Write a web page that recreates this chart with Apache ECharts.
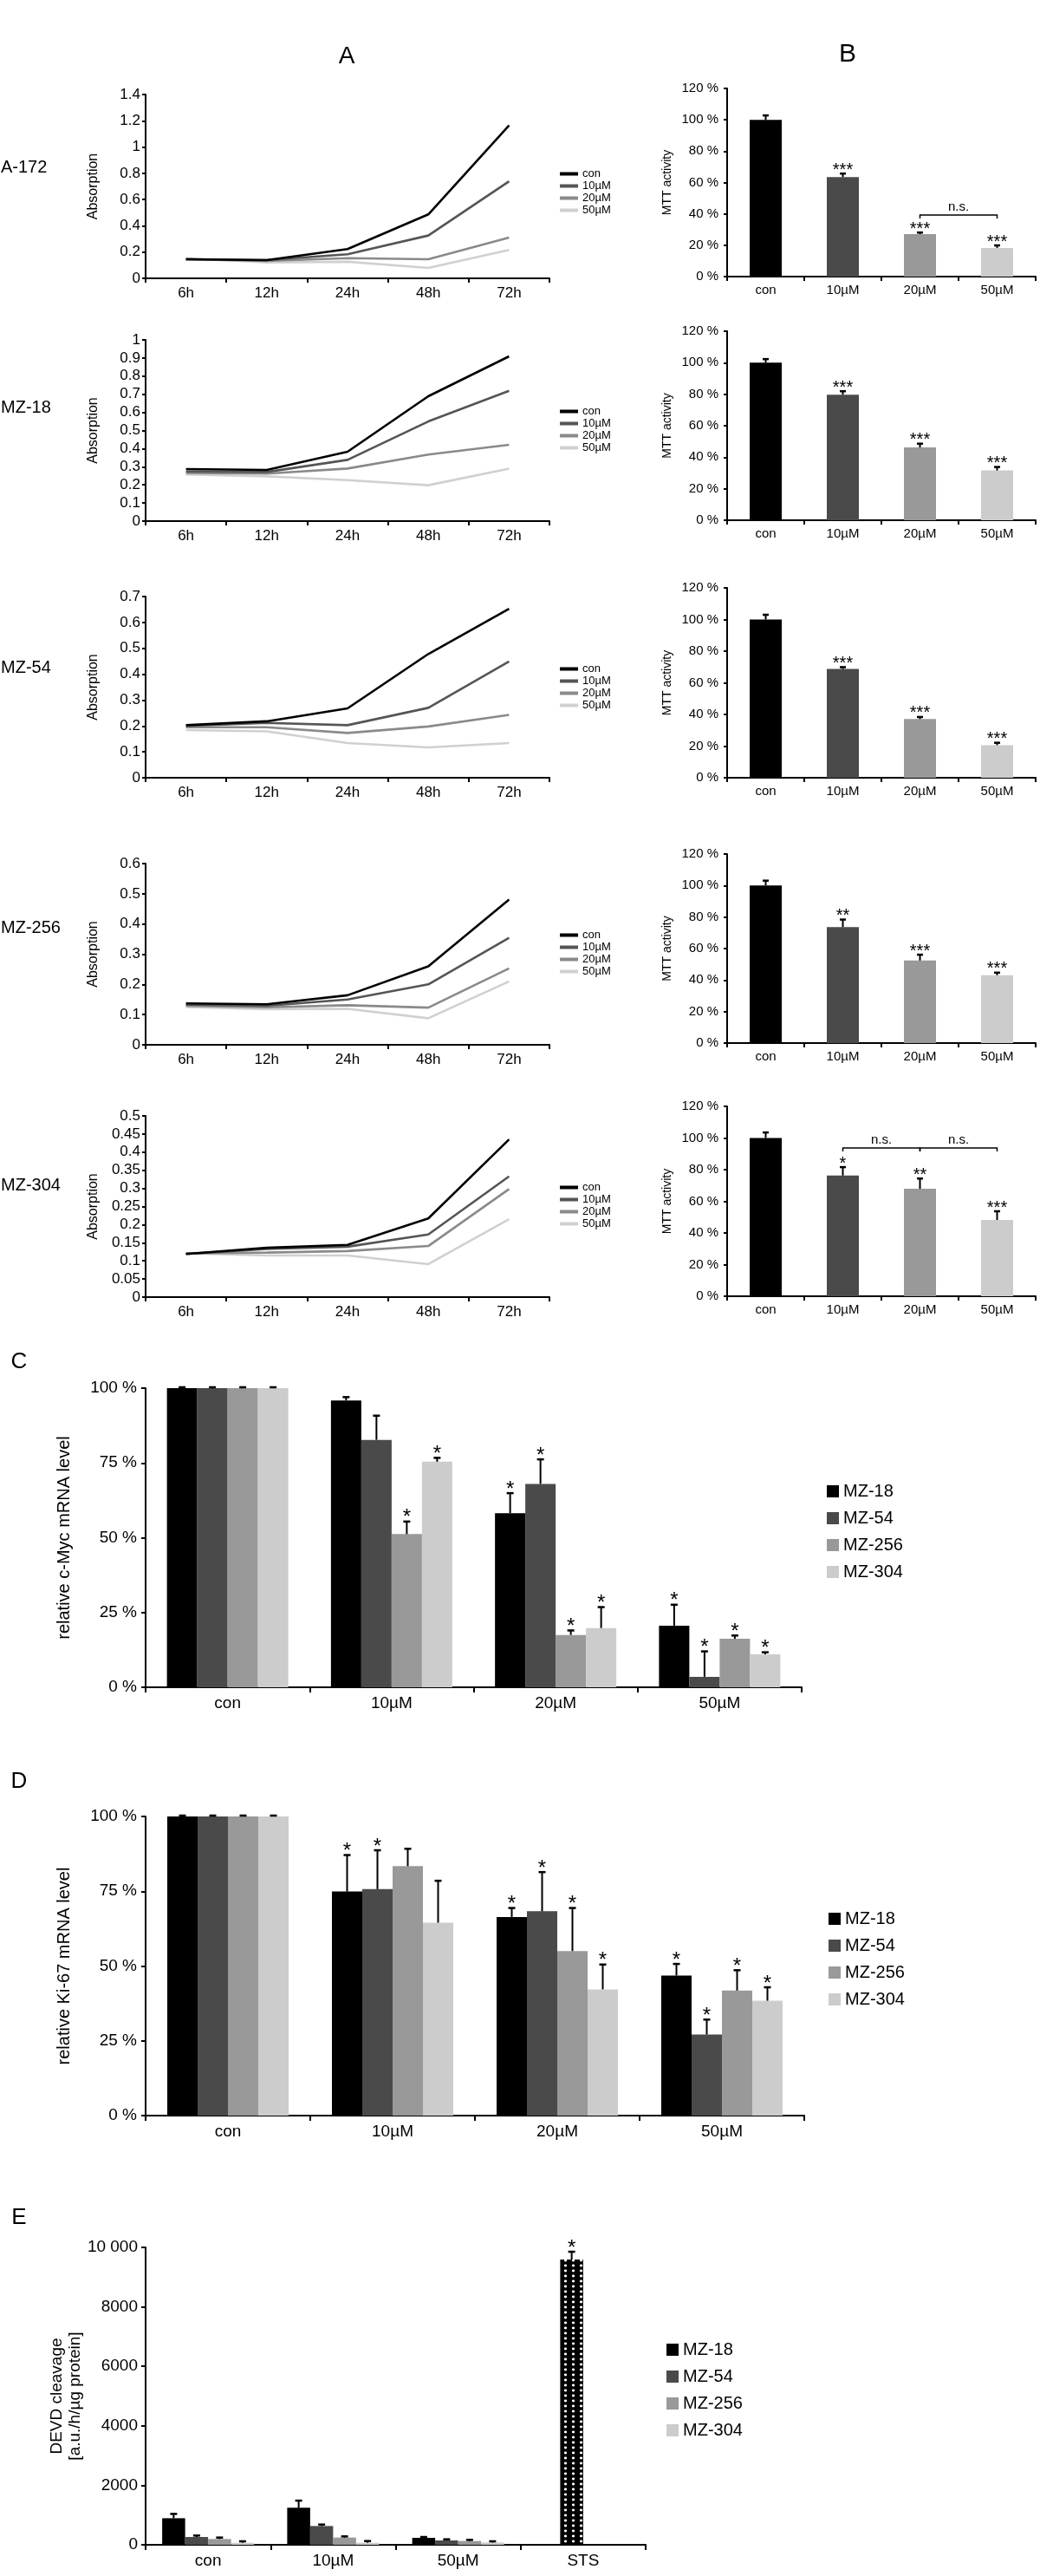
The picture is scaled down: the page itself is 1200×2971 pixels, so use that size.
<!DOCTYPE html>
<html><head><meta charset="utf-8">
<script src="https://cdn.jsdelivr.net/npm/echarts@6/dist/echarts.min.js"></script>
<style>html,body{margin:0;padding:0;background:#fff}#c{width:1200px;height:2971px}</style>
</head><body><div id="c"></div>
<script>
const FONT = '"Liberation Sans", Arial, sans-serif';

// ---------- Panel A : absorption over time ----------
const timeLabels = ['6h', '12h', '24h', '48h', '72h'];
const treatNames = ['con', '10µM', '20µM', '50µM'];
const rowLabels = ['A-172', 'MZ-18', 'MZ-54', 'MZ-256', 'MZ-304'];
const absA172 = [[0.145, 0.139, 0.223, 0.487, 1.164], [0.145, 0.139, 0.183, 0.326, 0.739], [0.145, 0.132, 0.154, 0.145, 0.311], [0.154, 0.121, 0.126, 0.079, 0.216]];
const absMZ18 = [[0.287, 0.282, 0.383, 0.689, 0.909], [0.274, 0.271, 0.338, 0.550, 0.719], [0.266, 0.262, 0.290, 0.367, 0.421], [0.257, 0.247, 0.226, 0.198, 0.289]];
const absMZ54 = [[0.203, 0.218, 0.268, 0.478, 0.653], [0.200, 0.212, 0.203, 0.270, 0.449], [0.195, 0.195, 0.173, 0.198, 0.243], [0.184, 0.179, 0.134, 0.117, 0.134]];
const absMZ256 = [[0.137, 0.134, 0.164, 0.260, 0.481], [0.133, 0.129, 0.150, 0.200, 0.354], [0.129, 0.124, 0.131, 0.123, 0.253], [0.125, 0.118, 0.119, 0.088, 0.210]];
const absMZ304 = [[0.119, 0.136, 0.144, 0.217, 0.435], [0.119, 0.133, 0.139, 0.173, 0.333], [0.121, 0.123, 0.127, 0.141, 0.298], [0.121, 0.115, 0.115, 0.091, 0.215]];
const absMax = [1.4, 1, 0.7, 0.6, 0.5];
const absStep = [0.2, 0.1, 0.1, 0.1, 0.05];

// ---------- Panel B : MTT activity ----------
const mttCats = ['con', '10µM', '20µM', '50µM'];
const mttA172 = [100, 63.5, 27.1, 18.3];
const mttA172Err = [2.8, 2.2, 1.0, 1.6];
const mttA172Sig = ['', '***', '***', '***'];
const mttMZ18 = [100, 79.7, 46.2, 31.6];
const mttMZ18Err = [2.3, 2.2, 2.4, 2.2];
const mttMZ18Sig = ['', '***', '***', '***'];
const mttMZ54 = [100, 68.7, 37.1, 20.6];
const mttMZ54Err = [3.0, 1.2, 1.3, 1.5];
const mttMZ54Sig = ['', '***', '***', '***'];
const mttMZ256 = [100, 73.6, 52.4, 43.1];
const mttMZ256Err = [3.1, 4.8, 3.7, 1.6];
const mttMZ256Sig = ['', '**', '***', '***'];
const mttMZ304 = [100, 76.3, 67.9, 48.2];
const mttMZ304Err = [3.5, 5.3, 6.5, 5.5];
const mttMZ304Sig = ['', '*', '**', '***'];
const nsA172 = [[2, 3, 39.3]];
const nsMZ304 = [[1, 2, 93.7], [2, 3, 93.7]];

// ---------- Panel C : c-Myc mRNA ----------
const cellLines = ['MZ-18', 'MZ-54', 'MZ-256', 'MZ-304'];
const doseCats = ['con', '10µM', '20µM', '50µM'];
const mycVals = [[100, 95.9, 58.2, 20.6], [100, 82.7, 68.0, 3.5], [100, 51.2, 17.5, 16.2], [100, 75.4, 19.8, 11.0]];
const mycErr = [[0.3, 1.1, 6.7, 7.0], [0.3, 8.1, 8.2, 8.5], [0.3, 4.2, 1.5, 1.1], [0.3, 1.3, 7.0, 0.7]];
const mycSig = [['', '', '*', '*'], ['', '', '*', '*'], ['', '*', '*', '*'], ['', '*', '*', '*']];

// ---------- Panel D : Ki-67 mRNA ----------
const kiVals = [[100, 74.9, 66.4, 46.8], [100, 75.7, 68.3, 27.1], [100, 83.4, 55.0, 41.8], [100, 64.5, 42.2, 38.4]];
const kiErr = [[0.3, 12.2, 3.0, 3.9], [0.3, 13.0, 13.1, 5.0], [0.3, 5.8, 14.4, 6.8], [0.3, 14.0, 8.3, 4.5]];
const kiSig = [['', '*', '*', '*'], ['', '*', '*', '*'], ['', '', '*', '*'], ['', '', '*', '*']];

// ---------- Panel E : DEVD cleavage ----------
const devdCats = ['con', '10µM', '50µM', 'STS'];
const devdVals = [[893, 1243, 233, 20], [262, 631, 146, 9592], [194, 243, 126, 0], [68, 68, 78, 0]];
const devdErr = [[146, 242, 29, 0], [49, 49, 38, 262], [49, 39, 39, 0], [49, 58, 39, 0]];
const devdSig = [['', '', '', ''], ['', '', '', '*'], ['', '', '', ''], ['', '', '', '']];
const devdTickLabels = {0: '0', 2000: '2000', 4000: '4000', 6000: '6000', 8000: '8000', 10000: '10 000'};

// ---------- styling ----------
const lineColors = ['#000000', '#555555', '#8a8a8a', '#d0d0d0'];
const barColors = ['#000000', '#4a4a4a', '#999999', '#cccccc'];

// STS pattern
const pc = document.createElement('canvas'); pc.width = 9; pc.height = 6;
const pctx = pc.getContext('2d');
pctx.fillStyle = '#000'; pctx.fillRect(0, 0, 9, 6);
pctx.fillStyle = '#fff'; pctx.beginPath(); pctx.ellipse(4.5, 3, 1.7, 1.4, 0, 0, Math.PI * 2); pctx.fill();

const gridsA = [[109, 212], [392, 209], [688, 209], [996, 209], [1287, 209]];
const gridsB = [[102, 217], [382, 218], [678, 219], [985, 218], [1276, 219]];
const legendTopsA = [194, 468, 765, 1072, 1363];
const rowLabelY = [193, 470, 770, 1070, 1367];

const grid = [], xAxis = [], yAxis = [], series = [], legend = [], graphic = [];
const axisLineStyle = {show: true, lineStyle: {color: '#000', width: 2}};

function errSeries(ai, vals, errs, sig, k, n, barW, starSize, capW) {
  return {
    type: 'custom', xAxisIndex: ai, yAxisIndex: ai, z: 5, silent: true,
    data: vals.map((v, i) => [i, v, errs[i]]),
    renderItem(params, api) {
      const i = params.dataIndex;
      const v = api.value(1), e = api.value(2);
      const off = (k - (n - 1) / 2) * barW;
      const p0 = api.coord([i, v]);
      const p1 = api.coord([i, v + e]);
      const x = p0[0] + off;
      const ch = [];
      if (e > 0) {
        ch.push({type: 'line', shape: {x1: x, y1: p0[1], x2: x, y2: p1[1]}, style: {stroke: '#000', lineWidth: 2}});
        ch.push({type: 'line', shape: {x1: x - capW / 2, y1: p1[1], x2: x + capW / 2, y2: p1[1]}, style: {stroke: '#000', lineWidth: 2.5}});
      }
      if (sig[i]) {
        ch.push({type: 'text', style: {text: sig[i], x: x, y: p1[1] - 4, align: 'center', verticalAlign: 'middle', fontSize: starSize, fontFamily: FONT, fill: '#000'}});
      }
      return {type: 'group', children: ch};
    }
  };
}

function bracketSeries(ai, br) {
  return {
    type: 'custom', xAxisIndex: ai, yAxisIndex: ai, z: 5, silent: true,
    data: br.map(b => [b[0], b[1], b[2]]),
    renderItem(params, api) {
      const a = api.coord([api.value(0), api.value(2)]);
      const b = api.coord([api.value(1), api.value(2)]);
      return {type: 'group', children: [
        {type: 'polyline', shape: {points: [[a[0], a[1] + 4], [a[0], a[1]], [b[0], b[1]], [b[0], b[1] + 4]]}, style: {stroke: '#000', lineWidth: 1.5, fill: null}},
        {type: 'text', style: {text: 'n.s.', x: (a[0] + b[0]) / 2, y: a[1] - 9, align: 'center', verticalAlign: 'middle', fontSize: 15, fontFamily: FONT, fill: '#000'}}
      ]};
    }
  };
}

// Panel A grids
const absRows = [absA172, absMZ18, absMZ54, absMZ256, absMZ304];
absRows.forEach((rows, r) => {
  grid.push({left: 168, top: gridsA[r][0], width: 466, height: gridsA[r][1], outerBoundsMode: 'none'});
  xAxis.push({type: 'category', gridIndex: r, data: timeLabels, boundaryGap: true,
    axisLine: axisLineStyle, axisTick: {show: true, length: 5, lineStyle: {color: '#000', width: 2}},
    axisLabel: {color: '#000', fontSize: 17, fontFamily: FONT, margin: 9}});
  yAxis.push({type: 'value', gridIndex: r, min: 0, max: absMax[r], interval: absStep[r],
    name: 'Absorption', nameLocation: 'middle', nameGap: 52,
    nameTextStyle: {color: '#000', fontSize: 16, fontFamily: FONT},
    axisLine: axisLineStyle, axisTick: {show: true, length: 4, lineStyle: {color: '#000', width: 2}},
    splitLine: {show: false},
    axisLabel: {color: '#000', fontSize: 17, fontFamily: FONT, margin: 6}});
  rows.forEach((vals, k) => {
    series.push({type: 'line', name: treatNames[k], xAxisIndex: r, yAxisIndex: r, data: vals,
      symbol: 'none', z: 4 - k,
      lineStyle: {color: lineColors[k], width: 2.6}, itemStyle: {color: lineColors[k]}});
  });
  legend.push({orient: 'vertical', left: 646, top: legendTopsA[r], padding: 0, itemWidth: 21, itemHeight: 4,
    itemGap: 1, icon: 'rect', data: treatNames, selectedMode: false,
    textStyle: {fontSize: 13, lineHeight: 13, fontFamily: FONT, color: '#000'}});
  graphic.push({type: 'text', x: 1, y: rowLabelY[r], style: {text: rowLabels[r], fontSize: 20, fontFamily: FONT, fill: '#000', verticalAlign: 'middle'}});
});

// Panel B grids
const mttRows = [[mttA172, mttA172Err, mttA172Sig], [mttMZ18, mttMZ18Err, mttMZ18Sig], [mttMZ54, mttMZ54Err, mttMZ54Sig], [mttMZ256, mttMZ256Err, mttMZ256Sig], [mttMZ304, mttMZ304Err, mttMZ304Sig]];
mttRows.forEach((row, r) => {
  const ai = 5 + r;
  grid.push({left: 839, top: gridsB[r][0], width: 356, height: gridsB[r][1], outerBoundsMode: 'none'});
  xAxis.push({type: 'category', gridIndex: ai, data: mttCats, boundaryGap: true,
    axisLine: axisLineStyle, axisTick: {show: true, length: 5, lineStyle: {color: '#000', width: 2}},
    axisLabel: {color: '#000', fontSize: 15, fontFamily: FONT, margin: 8}});
  yAxis.push({type: 'value', gridIndex: ai, min: 0, max: 120, interval: 20,
    name: 'MTT activity', nameLocation: 'middle', nameGap: 62,
    nameTextStyle: {color: '#000', fontSize: 14, fontFamily: FONT},
    axisLine: axisLineStyle, axisTick: {show: true, length: 4, lineStyle: {color: '#000', width: 2}},
    splitLine: {show: false},
    axisLabel: {color: '#000', fontSize: 15, fontFamily: FONT, margin: 10, formatter: '{value} %'}});
  series.push({type: 'bar', name: 'MTT', xAxisIndex: ai, yAxisIndex: ai, barWidth: 37,
    data: row[0].map((v, i) => ({value: v, itemStyle: {color: barColors[i]}}))});
  series.push(errSeries(ai, row[0], row[1], row[2], 0, 1, 37, 20, 7));
});
series.push(bracketSeries(5, nsA172));
series.push(bracketSeries(9, nsMZ304));

// Panels C, D, E
function groupedPanel(ai, top, height, width, cats, vals, errs, sig, yName, yOpts, barW, legendPos, isE) {
  grid.push({left: 168, top: top, width: width, height: height, outerBoundsMode: 'none'});
  xAxis.push({type: 'category', gridIndex: ai, data: cats, boundaryGap: true,
    axisLine: axisLineStyle, axisTick: {show: true, length: 6, lineStyle: {color: '#000', width: 2}},
    axisLabel: {color: '#000', fontSize: 19, fontFamily: FONT, margin: 9}});
  yAxis.push(Object.assign({type: 'value', gridIndex: ai, min: 0,
    name: yName, nameLocation: 'middle', nameGap: isE ? 66 : 83,
    nameTextStyle: {color: '#000', fontSize: isE ? 19 : 20, fontFamily: FONT, lineHeight: 21},
    axisLine: axisLineStyle, axisTick: {show: true, length: 5, lineStyle: {color: '#000', width: 2}},
    splitLine: {show: false}}, yOpts));
  vals.forEach((v, k) => {
    series.push({type: 'bar', name: cellLines[k], xAxisIndex: ai, yAxisIndex: ai, barWidth: barW, barGap: '0%',
      itemStyle: {color: barColors[k]},
      data: v.map((x, i) => (isE && i === 3 && x > 1000) ? {value: x, itemStyle: {color: {image: pc, repeat: 'repeat'}}} : x)});
    series.push(errSeries(ai, v, errs[k], sig[k], k, vals.length, barW, 24, 8));
  });
  legend.push({orient: 'vertical', left: legendPos[0], top: legendPos[1], padding: 0, itemWidth: 14, itemHeight: 14,
    itemGap: 11, icon: 'rect', data: cellLines, selectedMode: false,
    textStyle: {fontSize: 20, lineHeight: 20, fontFamily: FONT, color: '#000'}});
}
const pctAxis = {max: 100, interval: 25, axisLabel: {color: '#000', fontSize: 19, fontFamily: FONT, margin: 10, formatter: '{value} %'}};
groupedPanel(10, 1601, 345, 757, doseCats, mycVals, mycErr, mycSig, 'relative c-Myc mRNA level', pctAxis, 35, [954, 1710], false);
groupedPanel(11, 2095, 345, 760, doseCats, kiVals, kiErr, kiSig, 'relative Ki-67 mRNA level', pctAxis, 35, [956, 2203], false);
groupedPanel(12, 2592, 343, 577, devdCats, devdVals, devdErr, devdSig, 'DEVD cleavage\n[a.u./h/µg protein]',
  {max: 10000, interval: 2000, axisLabel: {color: '#000', fontSize: 19, fontFamily: FONT, margin: 9, formatter: v => devdTickLabels[v] || String(v)}},
  26.5, [769, 2700], true);

// Panel letters
[['A', 400, 65, 28], ['B', 978, 63, 30], ['C', 22, 1571, 26], ['D', 22, 2055, 26], ['E', 22, 2558, 26]].forEach(t => {
  graphic.push({type: 'text', x: t[1], y: t[2], style: {text: t[0], fontSize: t[3], fontFamily: FONT, fill: '#000', align: 'center', verticalAlign: 'middle'}});
});

const chart = echarts.init(document.getElementById('c'), null, {renderer: 'canvas'});
chart.setOption({animation: false, backgroundColor: '#fff', grid, xAxis, yAxis, series, legend, graphic});
</script></body></html>
